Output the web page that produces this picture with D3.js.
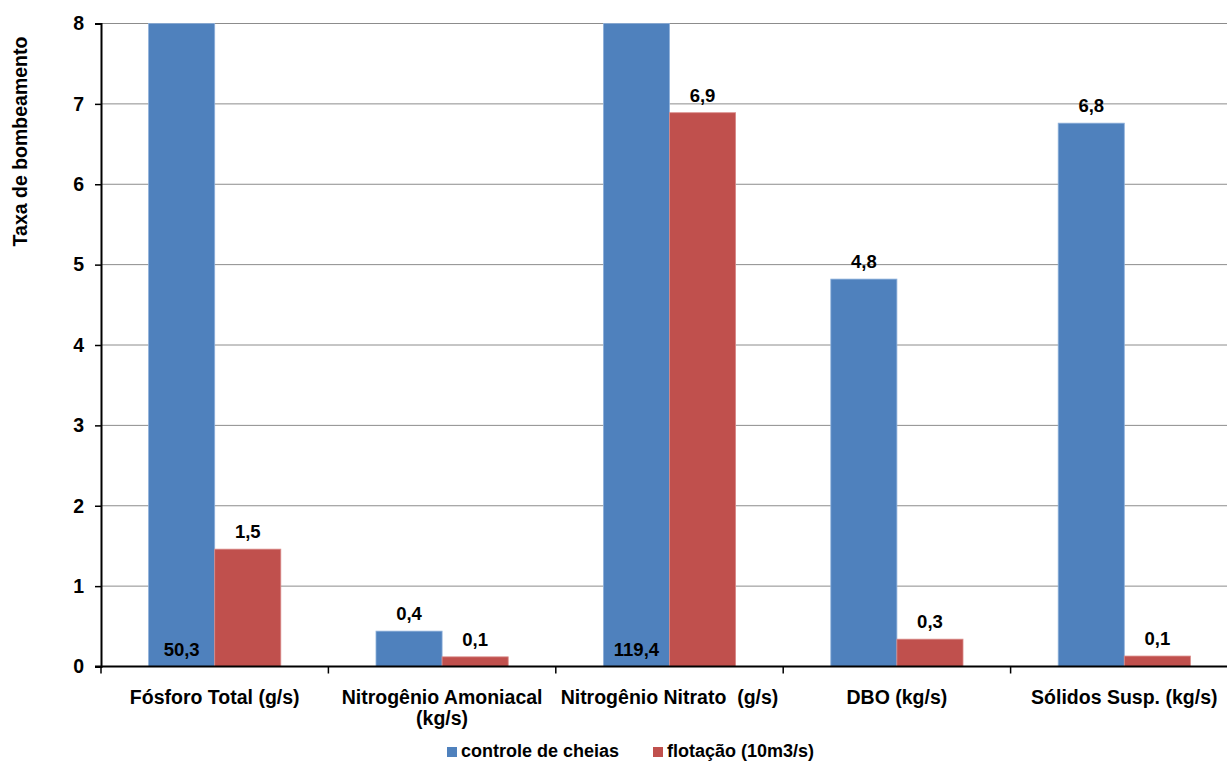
<!DOCTYPE html>
<html>
<head>
<meta charset="utf-8">
<script src="https://cdn.jsdelivr.net/npm/d3@7"></script>
<style>
  html, body { margin: 0; padding: 0; background: #fff; }
  svg { display: block; font-family: "Liberation Sans", Arial, sans-serif; font-weight: bold; }
</style>
</head>
<body>
<svg id="chart" width="1227" height="761"></svg>
<script>
// Categories (label lines) and the two series
const categories = [
  ["Fósforo Total (g/s)"],
  ["Nitrogênio Amoniacal", "(kg/s)"],
  ["Nitrogênio Nitrato  (g/s)"],
  ["DBO (kg/s)"],
  ["Sólidos Susp. (kg/s)"]
];
const seriesNames = ["controle de cheias", "flotação (10m3/s)"];
const controleCheias = [50.3, 0.44, 119.4, 4.82, 6.76];
const flotacao = [1.46, 0.12, 6.89, 0.34, 0.13];
const yTicks = [0, 1, 2, 3, 4, 5, 6, 7, 8];
const yTitle = "Taxa de bombeamento";

const colors = ["#4F81BD", "#C0504D"];
const edge = ["#8EB0DA", "#D98A88"];

const svg = d3.select("#chart");
const plot = { left: 101, right: 1238, top: 23.5, bottom: 666.5 };
const yMax = 8;

const x0 = d3.scaleBand()
  .domain(d3.range(categories.length))
  .range([plot.left, plot.right])
  .paddingInner(0).paddingOuter(0);

const x1 = d3.scaleBand()
  .domain([0, 1])
  .range([0, x0.bandwidth()])
  .paddingOuter(0.72).paddingInner(0);

const y = d3.scaleLinear().domain([0, yMax]).range([plot.bottom, plot.top]);

const fmt = v => d3.format(".1f")(v).replace(".", ",");

// horizontal gridlines
svg.append("g")
  .selectAll("line")
  .data(yTicks.filter(t => t > 0))
  .join("line")
  .attr("x1", plot.left).attr("x2", 1227)
  .attr("y1", d => y(d)).attr("y2", d => y(d))
  .attr("stroke", "#8c8c8c").attr("stroke-width", 1);

// bars
const data = categories.map((c, i) => ({ i, values: [controleCheias[i], flotacao[i]] }));
const groups = svg.append("g").selectAll("g")
  .data(data).join("g")
  .attr("transform", d => `translate(${x0(d.i)},0)`);

groups.selectAll("rect")
  .data(d => d.values.map((v, s) => ({ v, s })))
  .join("rect")
  .attr("x", d => x1(d.s))
  .attr("width", x1.bandwidth())
  .attr("y", d => y(Math.min(d.v, yMax)))
  .attr("height", d => y(0) - y(Math.min(d.v, yMax)))
  .attr("fill", d => colors[d.s])
  .attr("stroke", d => edge[d.s])
  .attr("stroke-width", 0.8);

// value labels: above the bar, or inside near the base when the bar exceeds the scale
groups.selectAll("text")
  .data(d => d.values.map((v, s) => ({ v, s })))
  .join("text")
  .attr("x", d => x1(d.s) + x1.bandwidth() / 2)
  .attr("y", d => d.v > yMax ? y(0) - 11 : y(d.v) - 11)
  .attr("text-anchor", "middle")
  .attr("font-size", 18.5)
  .attr("fill", "#000")
  .text(d => fmt(d.v));

// y axis
const yAxis = d3.axisLeft(y).tickValues(yTicks).tickSize(6).tickPadding(11).tickFormat(d3.format("d"));
const gy = svg.append("g").attr("transform", `translate(${plot.left},0)`).call(yAxis);
gy.select(".domain").attr("stroke", "#000").attr("stroke-width", 2);
gy.selectAll(".tick line").attr("stroke", "#000").attr("stroke-width", 1.5);
gy.selectAll(".tick text").attr("font-size", 19.5).attr("font-family", "Liberation Sans, Arial, sans-serif")
  .attr("font-weight", "bold").attr("fill", "#000");

// x axis baseline with ticks at category boundaries
svg.append("line")
  .attr("x1", plot.left - 6).attr("x2", 1227)
  .attr("y1", y(0)).attr("y2", y(0))
  .attr("stroke", "#000").attr("stroke-width", 2);
svg.append("g").selectAll("line")
  .data(d3.range(categories.length + 1))
  .join("line")
  .attr("x1", i => plot.left + i * x0.bandwidth())
  .attr("x2", i => plot.left + i * x0.bandwidth())
  .attr("y1", y(0)).attr("y2", y(0) + 7)
  .attr("stroke", "#000").attr("stroke-width", 1.5);

// category labels
const cat = svg.append("g").selectAll("text")
  .data(categories).join("text")
  .attr("x", (d, i) => x0(i) + x0.bandwidth() / 2)
  .attr("y", 704)
  .attr("text-anchor", "middle")
  .attr("font-size", 19.5)
  .attr("fill", "#000");
cat.selectAll("tspan")
  .data(d => d).join("tspan")
  .attr("x", function() { return d3.select(this.parentNode).attr("x"); })
  .attr("dy", (d, k) => k === 0 ? 0 : 21)
  .attr("xml:space", "preserve")
  .text(d => d);

// y axis title
svg.append("text")
  .attr("transform", "translate(27,141.5) rotate(-90)")
  .attr("text-anchor", "middle")
  .attr("font-size", 19.5)
  .attr("fill", "#000")
  .text(yTitle);

// legend
const legendX = [447, 653];
const leg = svg.append("g").selectAll("g")
  .data(seriesNames).join("g")
  .attr("transform", (d, i) => `translate(${legendX[i]},747)`);
leg.append("rect").attr("width", 10).attr("height", 10).attr("fill", (d, i) => colors[i]);
leg.append("text").attr("x", 14).attr("y", 10).attr("font-size", 18).attr("fill", "#000").text(d => d);
</script>
</body>
</html>
